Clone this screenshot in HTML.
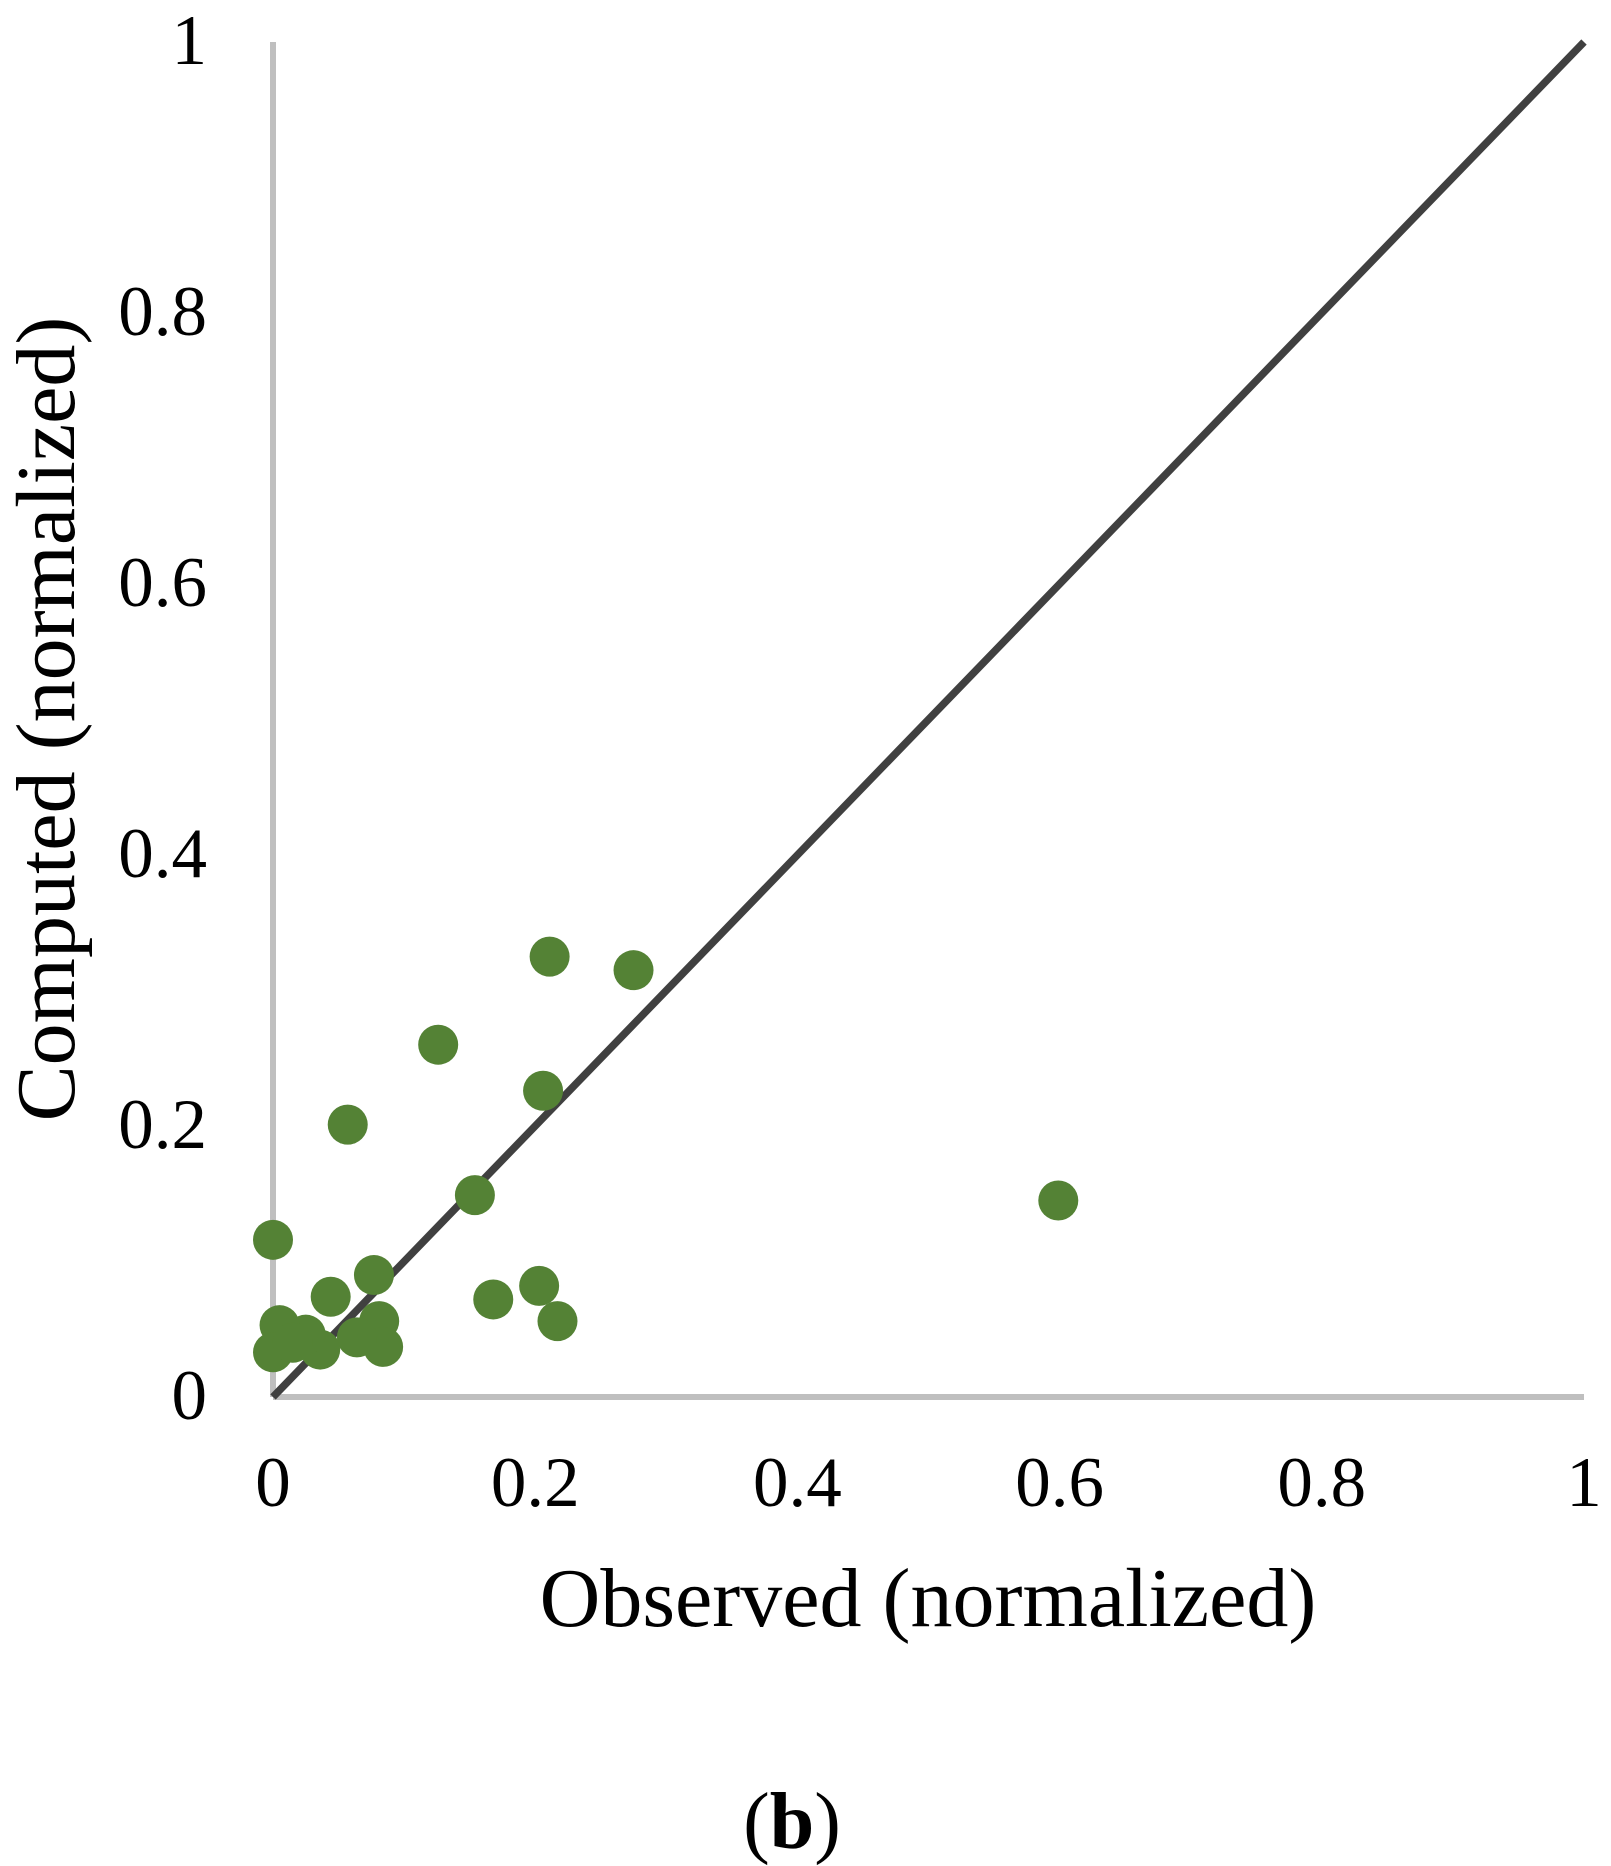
<!DOCTYPE html>
<html><head><meta charset="utf-8"><style>
html,body{margin:0;padding:0;background:#fff;}
svg{display:block;}
text{font-family:"Liberation Serif",serif;fill:#000;}
</style></head><body>
<svg id="chart" width="1611" height="1866" viewBox="0 0 1611 1866">
<g id="axes"></g><g id="line"></g><g id="pts"></g><g id="labels"></g>
</svg>
<script>
const observed = [0,0.057,0.126,0.211,0.275,0.206,0.154,0.599,0.077,0.044,0.168,0.203,0.217,0.081,0.084,0.064,0.036,0.025,0.005,0,0.015];
const computed = [0.116,0.201,0.26,0.325,0.315,0.226,0.149,0.145,0.09,0.074,0.072,0.082,0.056,0.056,0.037,0.044,0.035,0.046,0.053,0.033,0.04];
const xTicks = [0,0.2,0.4,0.6,0.8,1];
const yTicks = [0,0.2,0.4,0.6,0.8,1];
const xTickLabels = ["0","0.2","0.4","0.6","0.8","1"];
const yTickLabels = ["0","0.2","0.4","0.6","0.8","1"];

const X0=273,X1=1584,Y0=1397,Y1=42;
const sx=v=>X0+(X1-X0)*v;
const sy=v=>Y0-(Y0-Y1)*v;
const NS="http://www.w3.org/2000/svg";
function mk(tag,attrs,parent){const e=document.createElementNS(NS,tag);for(const k in attrs)e.setAttribute(k,attrs[k]);parent.appendChild(e);return e;}
const axes=document.getElementById('axes'),lineG=document.getElementById('line'),pts=document.getElementById('pts'),lab=document.getElementById('labels');

let a=mk('line',{x1:sx(0),y1:sy(1),x2:sx(0),y2:sy(0),stroke:'#bfbfbf','stroke-width':6},axes);


a=mk('line',{x1:sx(0),y1:sy(0),x2:sx(1),y2:sy(0),stroke:'#bfbfbf','stroke-width':6},axes);



let d=mk('line',{x1:sx(0),y1:sy(0),x2:sx(1),y2:sy(1),stroke:'#404040','stroke-width':7.5},lineG);



observed.forEach((v,i)=>{
  const c=mk('circle',{cx:sx(v),cy:sy(computed[i]),r:20,fill:'#548235'},pts);
  
  
});

xTicks.forEach((v,i)=>{
  const t=mk('text',{x:sx(v),y:1506,'font-size':71,'text-anchor':'middle'},lab);
  t.textContent=xTickLabels[i];
  
  
});
yTicks.forEach((v,i)=>{
  const t=mk('text',{x:207,y:sy(v)+22,'font-size':71,'text-anchor':'end'},lab);
  t.textContent=yTickLabels[i];
  
  
});
let t=mk('text',{x:928,y:1626,'font-size':84,'text-anchor':'middle'},lab);
t.textContent='Observed (normalized)';


t=mk('text',{x:0,y:0,'font-size':84,'text-anchor':'middle',transform:'translate(74,719) rotate(-90)'},lab);
t.textContent='Computed (normalized)';


t=mk('text',{x:792,y:1848,'font-size':80,'text-anchor':'middle'},lab);
t.innerHTML='(<tspan font-weight="bold">b</tspan>)';


</script>
</body></html>
